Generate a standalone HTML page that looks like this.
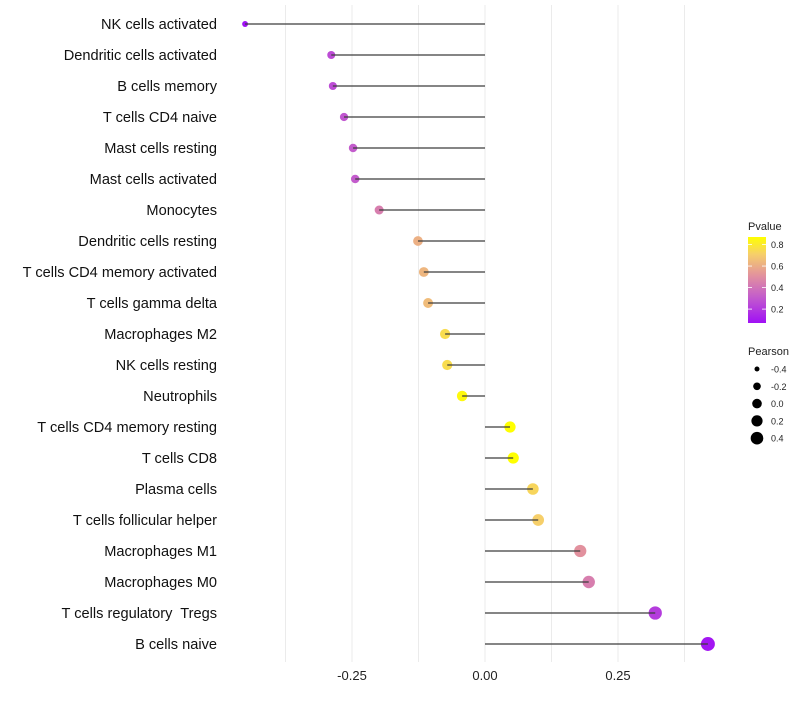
<!DOCTYPE html>
<html><head><meta charset="utf-8">
<style>
body{margin:0;background:#fff;font-family:"Liberation Sans",sans-serif;}
svg text{font-family:"Liberation Sans",sans-serif;white-space:pre;}
</style></head>
<body>
<svg id="chart" width="800" height="700" xmlns="http://www.w3.org/2000/svg">
<g id="grid"></g>
<g id="marks"></g>
<g id="ylabels"></g>
<g id="xlabels"></g>
<g id="legend">
<defs><linearGradient id="pg" x1="0" y1="1" x2="0" y2="0">
<stop offset="0" stop-color="#a010f5"/><stop offset="0.3" stop-color="#c35ccc"/><stop offset="0.55" stop-color="#e2919e"/><stop offset="0.8" stop-color="#f6cf6a"/><stop offset="1" stop-color="#ffff00"/></linearGradient></defs>
<text x="748" y="230" font-size="11" fill="#222">Pvalue</text>
<rect x="748" y="237" width="18" height="86" fill="url(#pg)"/>
<g id="cbticks"></g>
<text x="748" y="355" font-size="11" fill="#222">Pearson</text>
<g id="sizeleg"></g>
</g>
</svg>
<script>
const categories=["NK cells activated","Dendritic cells activated","B cells memory","T cells CD4 naive","Mast cells resting","Mast cells activated","Monocytes","Dendritic cells resting","T cells CD4 memory activated","T cells gamma delta","Macrophages M2","NK cells resting","Neutrophils","T cells CD4 memory resting","T cells CD8","Plasma cells","T cells follicular helper","Macrophages M1","Macrophages M0","T cells regulatory  Tregs","B cells naive"];
const pearson=[-0.451,-0.289,-0.286,-0.265,-0.248,-0.244,-0.199,-0.126,-0.115,-0.107,-0.075,-0.071,-0.043,0.047,0.053,0.090,0.100,0.179,0.195,0.320,0.419];
const pvalue=[0.05,0.27,0.27,0.3,0.32,0.32,0.45,0.62,0.64,0.66,0.76,0.76,0.85,0.87,0.87,0.74,0.72,0.52,0.45,0.22,0.1];
const xTicks=[-0.25,0,0.25];
const xTickLabels=["-0.25","0.00","0.25"];
const gridVals=[-0.375,-0.25,-0.125,0,0.125,0.25,0.375];
const cbVals=[0.2,0.4,0.6,0.8];
const sizeVals=[-0.4,-0.2,0,0.2,0.4];
const NS="http://www.w3.org/2000/svg";
const X=v=>485+v*532;
const Y=i=>24+i*31;
const R=v=>Math.sqrt(Math.max(2.5,29.4+46*v));
const RL=v=>Math.sqrt(Math.max(1.5,23+42*v));
const stops=[[0.08,[160,16,245]],[0.32,[195,92,204]],[0.52,[226,145,158]],[0.72,[246,207,106]],[0.87,[255,255,0]]];
function col(p){if(p<=stops[0][0])return `rgb(${stops[0][1]})`;for(let k=1;k<stops.length;k++){if(p<=stops[k][0]){const a=stops[k-1],b=stops[k],t=(p-a[0])/(b[0]-a[0]);return `rgb(${a[1].map((c,j)=>Math.round(c+(b[1][j]-c)*t)).join(',')})`;}}return 'rgb(255,255,0)';}
function mk(tag,at,parent){const e=document.createElementNS(NS,tag);for(const k in at)e.setAttribute(k,at[k]);parent.appendChild(e);return e;}
const grid=document.getElementById('grid'),marks=document.getElementById('marks'),yl=document.getElementById('ylabels'),xl=document.getElementById('xlabels');
gridVals.forEach(v=>{const l=mk('line',{x1:X(v),x2:X(v),y1:5,y2:662,stroke:'#ebebeb','stroke-width':1},grid);

});
xTicks.forEach((v,i)=>{const t=mk('text',{x:X(v),y:680,'font-size':13,'text-anchor':'middle',fill:'#222'},xl);t.textContent=xTickLabels[i];

});
categories.forEach((c,i)=>{const y=Y(i);
const t=mk('text',{x:217,y:y+5,'font-size':14.6,'text-anchor':'end',fill:'#111'},yl);t.textContent=c;


const d=mk('circle',{cx:X(pearson[i]),cy:y,r:R(pearson[i]),fill:col(pvalue[i])},marks);


const s=mk('line',{x1:X(0),x2:X(pearson[i]),y1:y,y2:y,stroke:'#3c3c3c','stroke-width':1.3},marks);

});
const cb=document.getElementById('cbticks');
cbVals.forEach(v=>{const y=322-(v-0.08)/(0.87-0.08)*85;
mk('line',{x1:748,x2:752,y1:y,y2:y,stroke:'#fff','stroke-width':0.8},cb);mk('line',{x1:762,x2:766,y1:y,y2:y,stroke:'#fff','stroke-width':0.8},cb);
const t=mk('text',{x:771,y:y+3.5,'font-size':9,fill:'#222'},cb);t.textContent=v.toFixed(1);

});
const sl=document.getElementById('sizeleg');
sizeVals.forEach((v,i)=>{const y=369+i*17.3;const c=mk('circle',{cx:757,cy:y,r:RL(v),fill:'#000'},sl);


const t=mk('text',{x:771,y:y+3.5,'font-size':9,fill:'#222'},sl);t.textContent=v.toFixed(1);

});
</script>
</body></html>
